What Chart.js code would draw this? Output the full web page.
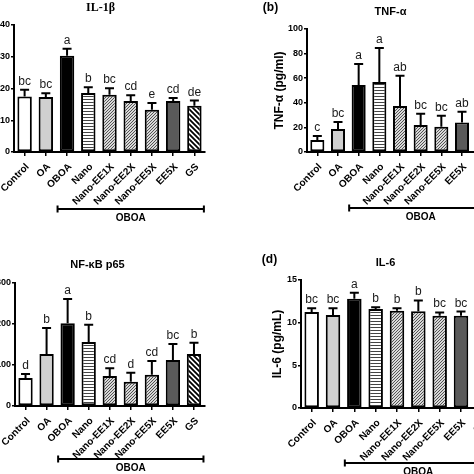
<!DOCTYPE html>
<html>
<head>
<meta charset="utf-8">
<script src="https://cdn.jsdelivr.net/npm/chart.js@4"></script>
<style>
  html, body { margin: 0; padding: 0; background: #fff; }
  #wrap { position: relative; width: 474px; height: 474px; overflow: hidden; background: #fff; }
  canvas { position: absolute; }
</style>
</head>
<body>
<div id="wrap">
  <canvas id="cA" width="280" height="237" style="left:-40px;top:0px"></canvas>
  <canvas id="cB" width="280" height="237" style="left:230px;top:0px"></canvas>
  <canvas id="cC" width="280" height="237" style="left:-40px;top:237px"></canvas>
  <canvas id="cD" width="280" height="237" style="left:230px;top:237px"></canvas>
</div>
<script>
// ---------------- DATA ----------------
const categories = ['Control', 'OA', 'OBOA', 'Nano', 'Nano-EE1X', 'Nano-EE2X', 'Nano-EE5X', 'EE5X', 'GS'];

// (a) IL-1β
const il1bMean = [17.5, 17.3, 30.3, 18.6, 18.0, 16.1, 13.3, 16.1, 14.6];
const il1bErr  = [2.1, 1.2, 2.2, 1.8, 2.1, 1.8, 2.1, 0.9, 1.6];
const il1bLetters = ['bc', 'bc', 'a', 'b', 'bc', 'cd', 'e', 'cd', 'de'];
const il1bTicks = [0, 10, 20, 30, 40];

// (b) TNF-α (GS bar lies outside the cropped picture)
const tnfMean = [9.8, 18.7, 54.5, 57.0, 37.4, 22.0, 20.5, 24.0, null];
const tnfErr  = [3.2, 5.7, 17.0, 27.5, 24.6, 9.0, 9.0, 8.7, null];
const tnfLetters = ['c', 'bc', 'a', 'a', 'ab', 'bc', 'bc', 'ab', ''];
const tnfTicks = [0, 20, 40, 60, 80, 100];

// (c) NF-κB p65
const nfkbMean = [68, 127, 202, 156, 73, 59, 76, 112, 127];
const nfkbErr  = [10, 63, 59, 42, 19, 22, 34, 39, 27];
const nfkbLetters = ['d', 'b', 'a', 'b', 'cd', 'd', 'cd', 'bc', 'b'];
const nfkbTicks = [0, 100, 200, 300];

// (d) IL-6 (GS bar lies outside the cropped picture)
const il6Mean = [11.25, 10.9, 12.8, 11.6, 11.4, 11.35, 10.8, 10.8, null];
const il6Err  = [0.45, 0.8, 0.7, 0.2, 0.3, 1.25, 0.4, 0.5, null];
const il6Letters = ['bc', 'bc', 'a', 'b', 'b', 'b', 'bc', 'bc', ''];
const il6Ticks = [0, 5, 10, 15];

// ---------------- STYLE ----------------
const SANS = '"Liberation Sans", Arial, sans-serif';
const SERIF = '"Liberation Serif", "Times New Roman", serif';
Chart.defaults.font.family = SANS;
Chart.defaults.color = '#000';

function tile(w, h, draw) {
  const c = document.createElement('canvas');
  c.width = w; c.height = h;
  const g = c.getContext('2d');
  draw(g, w, h);
  return g.createPattern(c, 'repeat');
}
const horizPattern = tile(4, 3, (g, w, h) => {
  g.fillStyle = '#fff'; g.fillRect(0, 0, w, h);
  g.fillStyle = '#444'; g.fillRect(0, 0, w, 1);
});
const fineHatch = tile(3, 3, (g, s) => {
  g.fillStyle = '#d8d8d8'; g.fillRect(0, 0, s, s);
  g.strokeStyle = '#444'; g.lineWidth = 0.9;
  g.beginPath();
  g.moveTo(-1, 1); g.lineTo(1, -1);
  g.moveTo(0, s); g.lineTo(s, 0);
  g.moveTo(s - 1, s + 1); g.lineTo(s + 1, s - 1);
  g.stroke();
});
const wideBackHatch = tile(5, 5, (g, s) => {
  g.fillStyle = '#fff'; g.fillRect(0, 0, s, s);
  g.strokeStyle = '#000'; g.lineWidth = 1.8;
  g.beginPath();
  g.moveTo(0, 0); g.lineTo(s, s);
  g.moveTo(-1, s - 1); g.lineTo(1, s + 1);
  g.moveTo(s - 1, -1); g.lineTo(s + 1, 1);
  g.stroke();
});
const barFills = ['#ffffff', '#d0d0d0', '#000000', horizPattern, fineHatch, fineHatch, fineHatch, '#5a5a5a', wideBackHatch];

// ---------------- PLUGIN ----------------
const decorPlugin = {
  id: 'decor',
  afterDatasetsDraw(chart) {
    const p = chart.options.plugins.decor;
    const ctx = chart.ctx;
    const ys = chart.scales.y;
    const meta = chart.getDatasetMeta(0);
    meta.data.forEach((bar, i) => {
      const v = p.means[i];
      if (v == null) return;
      const top = ys.getPixelForValue(v);
      const e = ys.getPixelForValue(v + p.errs[i]);
      ctx.save();
      ctx.strokeStyle = '#000';
      ctx.lineWidth = 2;
      ctx.beginPath();
      ctx.moveTo(bar.x, top); ctx.lineTo(bar.x, e);
      ctx.moveTo(bar.x - 4.5, e); ctx.lineTo(bar.x + 4.5, e);
      ctx.stroke();
      ctx.fillStyle = '#1a1a1a';
      ctx.font = '12px ' + SANS;
      ctx.textAlign = 'center';
      ctx.textBaseline = 'alphabetic';
      ctx.fillText(p.letters[i], bar.x, e - 5);
      ctx.restore();
    });
  },
  afterDraw(chart) {
    const p = chart.options.plugins.decor;
    const ctx = chart.ctx;
    const xs = chart.scales.x;
    // OBOA bracket
    const x1 = xs.getPixelForValue(2) - 9.5;
    const x2 = xs.getPixelForValue(8) + 9.5;
    const y = chart.chartArea.bottom + p.bracketDy;
    ctx.save();
    ctx.strokeStyle = '#000';
    ctx.lineWidth = 2;
    ctx.beginPath();
    ctx.moveTo(x1, y); ctx.lineTo(x2, y);
    ctx.moveTo(x1, y - 3.5); ctx.lineTo(x1, y + 3.5);
    ctx.moveTo(x2, y - 3.5); ctx.lineTo(x2, y + 3.5);
    ctx.stroke();
    ctx.fillStyle = '#000';
    ctx.font = 'bold 10px ' + SANS;
    ctx.textAlign = 'center';
    ctx.textBaseline = 'middle';
    ctx.fillText('OBOA', (x1 + x2) / 2, y + 9);
    // titles (page coordinates)
    p.texts.forEach(t => {
      ctx.font = t.font;
      ctx.textAlign = 'center';
      ctx.textBaseline = 'middle';
      ctx.fillText(t.text, t.x - p.ox, t.y - p.oy);
    });
    ctx.restore();
  }
};

// ---------------- PANELS ----------------
function makePanel(cfg) {
  const el = document.getElementById(cfg.id);
  const ox = cfg.ox, oy = cfg.oy;
  const W = el.width, H = el.height;
  const YW = 40, XH = 60;
  const a = cfg.area; // page coords of chart area
  return new Chart(el, {
    type: 'bar',
    data: {
      labels: categories,
      datasets: [{
        data: cfg.means,
        backgroundColor: barFills,
        borderColor: '#000',
        borderWidth: 2,
        borderSkipped: false,
        barPercentage: 0.68,
        categoryPercentage: 1.0
      }]
    },
    options: {
      responsive: false,
      devicePixelRatio: 1,
      animation: false,
      layout: {
        padding: {
          left: a.l - ox - YW,
          top: a.t - oy,
          right: ox + W - a.r,
          bottom: oy + H - a.b - XH
        }
      },
      plugins: {
        legend: { display: false },
        tooltip: { enabled: false },
        decor: {
          means: cfg.means, errs: cfg.errs, letters: cfg.letters,
          bracketDy: cfg.bracketDy, texts: cfg.texts, ox: ox, oy: oy
        }
      },
      scales: {
        x: {
          type: 'category',
          offset: true,
          grid: { display: true, drawOnChartArea: false, drawTicks: true, tickLength: 4, color: '#000', lineWidth: 1.5, offset: false },
          border: { display: true, color: '#000', width: 2 },
          ticks: { autoSkip: false, minRotation: 45, maxRotation: 45, padding: 5, labelOffset: 3, color: '#000', font: { size: 10, weight: 'bold' } },
          afterFit: s => { s.height = XH; s.paddingLeft = 0; s.paddingRight = 0; }
        },
        y: {
          min: cfg.ticks[0],
          max: cfg.ticks[cfg.ticks.length - 1],
          afterBuildTicks: s => { s.ticks = cfg.ticks.map(v => ({ value: v })); },
          grid: { display: true, drawOnChartArea: false, drawTicks: true, tickLength: 3, color: '#000', lineWidth: 1.5 },
          border: { display: true, color: '#000', width: 2 },
          ticks: { padding: 1, color: '#000', font: { size: 9, weight: 'bold' } },
          title: cfg.ytitle ? {
            display: true, text: cfg.ytitle, color: '#000',
            font: { size: 12, weight: 'bold' }, padding: { top: cfg.ytitlePad, bottom: 0 }
          } : { display: false },
          afterFit: s => { s.width = YW; s.paddingTop = 0; s.paddingBottom = 0; }
        }
      }
    },
    plugins: [decorPlugin]
  });
}

makePanel({
  id: 'cA', ox: -40, oy: 0,
  area: { l: 14, t: 25, r: 205, b: 152 },
  means: il1bMean, errs: il1bErr, letters: il1bLetters, ticks: il1bTicks,
  bracketDy: 57,
  texts: [{ text: 'IL-1β', x: 100.5, y: 8, font: 'bold 12px ' + SERIF }]
});
makePanel({
  id: 'cB', ox: 230, oy: 0,
  area: { l: 307, t: 29, r: 493, b: 152 },
  means: tnfMean, errs: tnfErr, letters: tnfLetters, ticks: tnfTicks,
  ytitle: 'TNF-α (pg/ml)', ytitlePad: 5,
  bracketDy: 56,
  texts: [
    { text: '(b)', x: 270.5, y: 8, font: 'bold 12px ' + SANS },
    { text: 'TNF-α', x: 390.5, y: 12, font: 'bold 11px ' + SANS }
  ]
});
makePanel({
  id: 'cC', ox: -40, oy: 237,
  area: { l: 15, t: 283, r: 204.5, b: 406 },
  means: nfkbMean, errs: nfkbErr, letters: nfkbLetters, ticks: nfkbTicks,
  bracketDy: 53,
  texts: [{ text: 'NF-κB p65', x: 97.5, y: 265, font: 'bold 11px ' + SANS }]
});
makePanel({
  id: 'cD', ox: 230, oy: 237,
  area: { l: 301, t: 280, r: 493, b: 408 },
  means: il6Mean, errs: il6Err, letters: il6Letters, ticks: il6Ticks,
  ytitle: 'IL-6 (pg/mL)', ytitlePad: 9,
  bracketDy: 55,
  texts: [
    { text: '(d)', x: 269.5, y: 260, font: 'bold 12px ' + SANS },
    { text: 'IL-6', x: 385.5, y: 262.5, font: 'bold 11px ' + SANS }
  ]
});
</script>
</body>
</html>
